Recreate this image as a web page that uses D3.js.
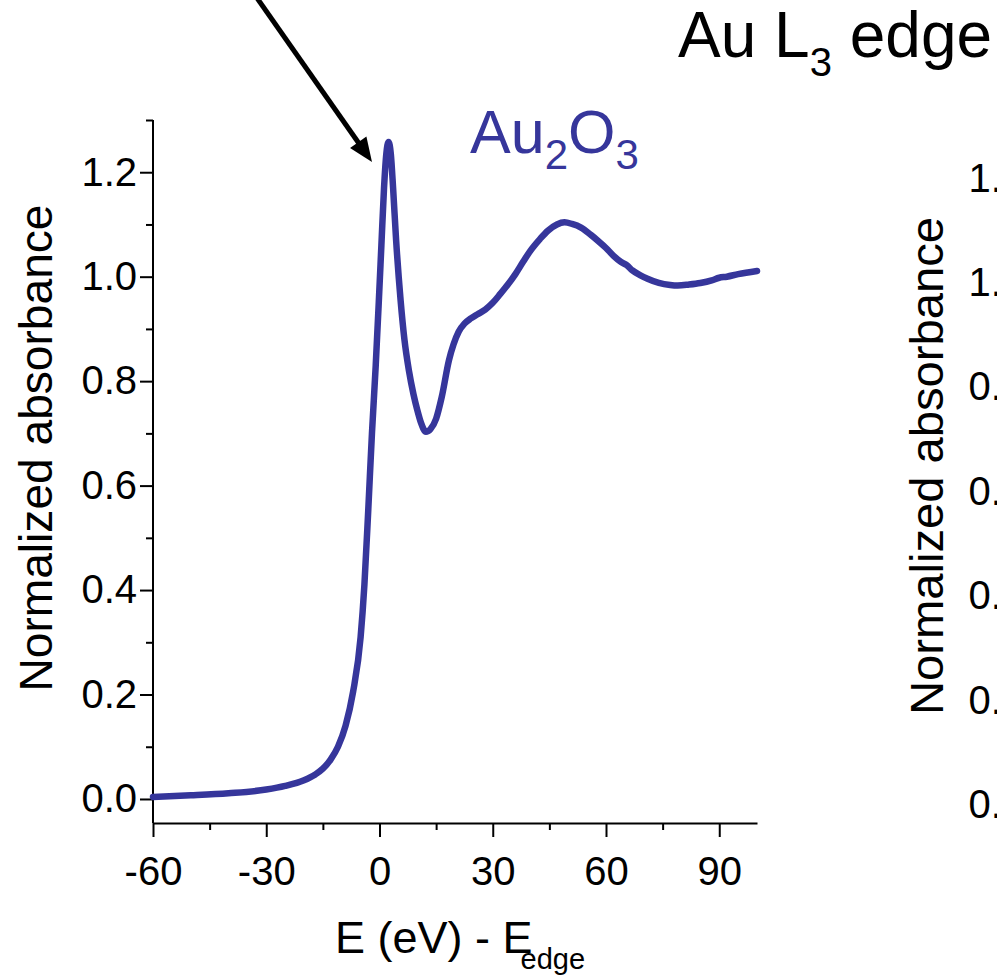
<!DOCTYPE html>
<html>
<head>
<meta charset="utf-8">
<script src="https://cdn.jsdelivr.net/npm/d3@7"></script>
<style>
  html, body { margin: 0; padding: 0; background: #fff; }
  svg { display: block; }
  text { font-family: "Liberation Sans", Arial, Helvetica, sans-serif; fill: #000; }
</style>
</head>
<body>
<svg id="chart" width="997" height="976"></svg>
<script>
// Au L3-edge XANES of Au2O3: energy relative to the edge (eV) vs normalized absorbance
const energy = [-60, -50, -40, -30, -25, -20, -17, -15, -13, -11, -9, -7, -5, -4, -3, -2, -1, -0.2, 0.5, 1.2, 1.8, 2.4,
  3.0, 3.6, 4.4, 5.6, 6.6, 7.8, 9, 10, 11, 12.3, 13.5, 15, 16.5, 18.4, 19.6, 21, 22.5, 24.2, 26, 28, 30, 32, 34, 36,
  38, 40, 42.5, 44.6, 47, 49, 51, 53.4, 56, 58, 60, 62, 64, 65.5, 67, 69, 71, 74, 77, 79, 82, 85, 88, 90, 92, 95, 100];
const absorbance = [0.004, 0.007, 0.011, 0.018, 0.025, 0.036, 0.047, 0.058, 0.075, 0.1, 0.14, 0.205, 0.31, 0.41, 0.55,
  0.70, 0.83, 0.95, 1.06, 1.17, 1.235, 1.258,
  1.235, 1.17, 1.07, 0.954, 0.88, 0.82, 0.775, 0.745, 0.72, 0.703, 0.708, 0.728, 0.77, 0.84, 0.87, 0.895, 0.91, 0.92,
  0.928, 0.937, 0.95, 0.967, 0.985, 1.005, 1.028, 1.05, 1.072, 1.088, 1.1, 1.104, 1.101, 1.094, 1.08, 1.068, 1.055,
  1.04, 1.028, 1.022, 1.012, 1.003, 0.996, 0.988, 0.984, 0.983, 0.985, 0.988, 0.993, 0.998, 1.0, 1.005, 1.011];

const xMajorTicks = [-60, -30, 0, 30, 60, 90];
const xMinorTicks = [-45, -15, 15, 45, 75];
const yMajorTicks = [0.0, 0.2, 0.4, 0.6, 0.8, 1.0, 1.2];
const yMinorTicks = [0.1, 0.3, 0.5, 0.7, 0.9, 1.1, 1.3];

const sampleName = ["Au", "2", "O", "3"];
const lineColor = "#36369b";

const svg = d3.select("#chart");
svg.append("rect").attr("width", 997).attr("height", 976).attr("fill", "#fff");

const x = d3.scaleLinear().domain([-60, 100]).range([153, 757]);
const y = d3.scaleLinear().domain([-0.046, 1.3]).range([823, 120]);

function styleAxis(g) {
  g.select(".domain").attr("stroke", "#000").attr("stroke-width", 2);
  g.selectAll(".tick line").attr("stroke", "#000").attr("stroke-width", 2);
  g.selectAll(".tick text").attr("font-size", 40).attr("fill", "#000")
    .attr("font-family", "'Liberation Sans', Arial, sans-serif");
}

// x axis
const gx = svg.append("g").attr("transform", "translate(0,823)");
gx.call(d3.axisBottom(x).tickValues(xMinorTicks).tickSizeInner(7).tickSizeOuter(0).tickFormat(""));
gx.call(styleAxis);
const gx2 = svg.append("g").attr("transform", "translate(0,823)");
gx2.call(d3.axisBottom(x).tickValues(xMajorTicks).tickSizeInner(14).tickSizeOuter(0).tickPadding(20)
  .tickFormat(d => String(d)));
gx2.call(styleAxis);
gx2.select(".domain").remove();

// y axis
const gy = svg.append("g").attr("transform", "translate(153,0)");
gy.call(d3.axisLeft(y).tickValues(yMinorTicks).tickSizeInner(7).tickSizeOuter(0).tickFormat(""));
gy.call(styleAxis);
gy.select(".domain").attr("d", `M0,${y(1.3)}V${y(-0.046)}`);
const gy2 = svg.append("g").attr("transform", "translate(153,0)");
gy2.call(d3.axisLeft(y).tickValues(yMajorTicks).tickSizeInner(13).tickSizeOuter(0).tickPadding(3).tickFormat(d3.format(".1f")));
gy2.call(styleAxis);
gy2.select(".domain").remove();

// neighbouring panel, cut off at the right edge
const y2 = d3.scaleLinear().domain([-0.046, 1.3]).range([829, 126]);
const gyR = svg.append("g").attr("transform", "translate(1040,0)");
gyR.call(d3.axisLeft(y2).tickValues(yMajorTicks).tickSizeInner(13).tickSizeOuter(0).tickPadding(3).tickFormat(d3.format(".1f")));
gyR.call(styleAxis);

// spectrum
const line = d3.line().x((d, i) => x(energy[i])).y(d => y(d)).curve(d3.curveMonotoneX);
svg.append("path").datum(absorbance)
  .attr("d", line)
  .attr("fill", "none")
  .attr("stroke", lineColor)
  .attr("stroke-width", 6.5)
  .attr("stroke-linejoin", "round")
  .attr("stroke-linecap", "round");

// axis titles
const xt = svg.append("text").attr("x", 335).attr("y", 953).attr("font-size", 45);
xt.append("tspan").text("E (eV) - E");
xt.append("tspan").attr("font-size", 29).attr("dx", -12).attr("dy", 16).text("edge");

svg.append("text")
  .attr("transform", "translate(52,448) rotate(-90)")
  .attr("text-anchor", "middle")
  .attr("font-size", 46)
  .attr("textLength", 487).attr("lengthAdjust", "spacingAndGlyphs")
  .text("Normalized absorbance");

svg.append("text")
  .attr("transform", "translate(943,466) rotate(-90)")
  .attr("text-anchor", "middle")
  .attr("font-size", 46)
  .attr("textLength", 498).attr("lengthAdjust", "spacingAndGlyphs")
  .text("Normalized absorbance");

// heading
const title = svg.append("text").attr("x", 678).attr("y", 57).attr("font-size", 64);
title.append("tspan").text("Au L");
title.append("tspan").attr("font-size", 40).attr("dy", 19).text("3");
title.append("tspan").attr("dy", -19).text(" edge");

// sample label
const lab = svg.append("text").attr("x", 470).attr("y", 153).attr("font-size", 61).style("fill", lineColor);
lab.append("tspan").text(sampleName[0]);
lab.append("tspan").attr("font-size", 42).attr("dy", 16).text(sampleName[1]);
lab.append("tspan").attr("dy", -16).text(sampleName[2]);
lab.append("tspan").attr("font-size", 42).attr("dy", 16).text(sampleName[3]);

// arrow pointing at the white line
const arrowFrom = [250, -12], arrowTo = [372, 162];
const dx = arrowTo[0] - arrowFrom[0], dy = arrowTo[1] - arrowFrom[1];
const len = Math.hypot(dx, dy), ux = dx / len, uy = dy / len;
const headLen = 24, headHalf = 10;
const bx = arrowTo[0] - ux * headLen, by = arrowTo[1] - uy * headLen;
svg.append("line")
  .attr("x1", arrowFrom[0]).attr("y1", arrowFrom[1])
  .attr("x2", bx + ux * 2).attr("y2", by + uy * 2)
  .attr("stroke", "#000").attr("stroke-width", 5);
svg.append("polygon")
  .attr("points", [arrowTo, [bx - uy * headHalf, by + ux * headHalf], [bx + uy * headHalf, by - ux * headHalf]].map(p => p.join(",")).join(" "))
  .attr("fill", "#000");
</script>
</body>
</html>
